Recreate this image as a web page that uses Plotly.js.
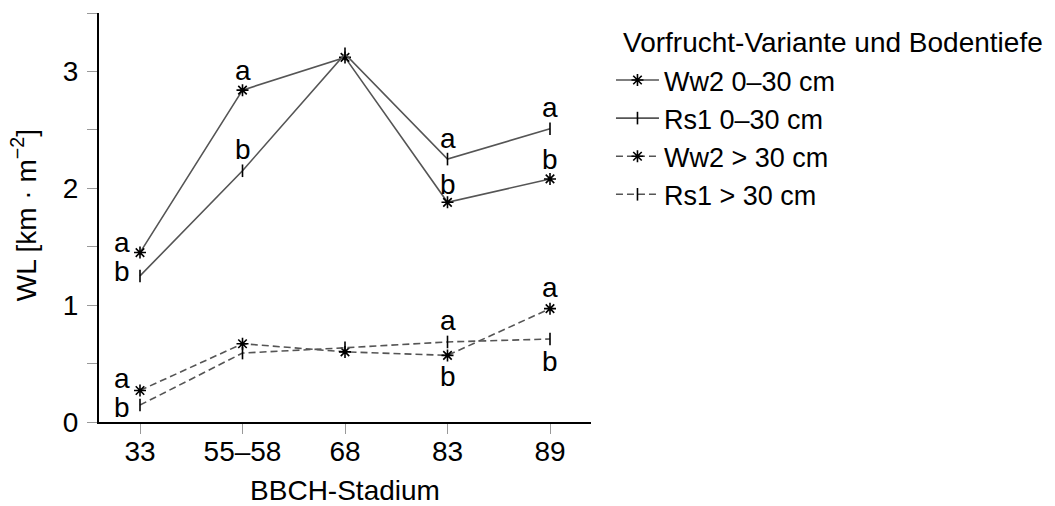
<!DOCTYPE html>
<html>
<head>
<meta charset="utf-8">
<script src="https://cdn.plot.ly/plotly-3.0.1.min.js"></script>
<style>html,body{margin:0;padding:0;background:#fff;}#chart{width:1055px;height:506px;}</style>
</head>
<body>
<div id="chart"></div>
<script>
// ---- data ----
const stages = ['33', '55–58', '68', '83', '89'];
const ww2Top = [1.45, 2.84, 3.12, 1.88, 2.08];
const rs1Top = [1.25, 2.15, 3.15, 2.25, 2.51];
const ww2Deep = [0.27, 0.67, 0.60, 0.57, 0.97];
const rs1Deep = [0.145, 0.59, 0.635, 0.685, 0.71];
const ww2TopLetters = ['a', 'a', '', 'b', 'b'];
const rs1TopLetters = ['b', 'b', '', 'a', 'a'];
const ww2DeepLetters = ['a', '', '', 'b', 'a'];
const rs1DeepLetters = ['b', '', '', 'a', 'b'];
const seriesNames = ['Ww2 0–30 cm', 'Rs1 0–30 cm', 'Ww2 > 30 cm', 'Rs1 > 30 cm'];
const legendTitle = 'Vorfrucht-Variante und Bodentiefe';
const xTitle = 'BBCH-Stadium';
const yTitle = 'WL [km · m<sup>−2</sup>]';

// ---- placement of letters (pixel shifts: [x, y-up]) ----
const shiftWwTop = [[-18, 10], [0, 20], [0, 0], [0, 18], [0, 19]];
const shiftRsTop = [[-18, 4], [0, 21], [0, 0], [0, 21], [0, 21]];
const shiftWwDeep = [[-18, 12], [0, 0], [0, 0], [0, -21], [0, 21]];
const shiftRsDeep = [[-18, -2], [0, 0], [0, 0], [0, 21], [0, -22]];

const FONT = 'Liberation Sans, Arial, Helvetica, sans-serif';
const FS = 28;
const lineCol = '#555555';

function tr(name, y, dash, sym, size) {
  return {
    x: stages, y: y, name: name, type: 'scatter', mode: 'lines+markers',
    line: {color: lineCol, width: 1.6, dash: dash},
    marker: {symbol: sym, size: size, color: '#000', line: {color: '#000', width: 1.6}},
    legendgroup: name, cliponaxis: false
  };
}
const data = [
  tr(seriesNames[0], ww2Top, 'solid', 'asterisk-open', 10),
  tr(seriesNames[1], rs1Top, 'solid', 'line-ns-open', 9),
  tr(seriesNames[2], ww2Deep, '7px,4px', 'asterisk-open', 10),
  tr(seriesNames[3], rs1Deep, '7px,4px', 'line-ns-open', 9)
];

const annotations = [];
function addLetters(letters, ys, shifts) {
  letters.forEach((l, i) => {
    if (!l) return;
    annotations.push({x: i, y: ys[i], xref: 'x', yref: 'y', text: l, showarrow: false,
      xanchor: 'center', yanchor: 'middle',
      xshift: shifts[i][0], yshift: shifts[i][1], font: {family: FONT, size: FS, color: '#000'}});
  });
}
addLetters(ww2TopLetters, ww2Top, shiftWwTop);
addLetters(rs1TopLetters, rs1Top, shiftRsTop);
addLetters(ww2DeepLetters, ww2Deep, shiftWwDeep);
addLetters(rs1DeepLetters, rs1Deep, shiftRsDeep);
annotations.push({xref: 'paper', yref: 'paper', x: 1.06, y: 0.927, xanchor: 'left', yanchor: 'middle',
  text: legendTitle, showarrow: false, font: {family: FONT, size: FS, color: '#000'}});
annotations.push({xref: 'paper', yref: 'paper', x: -0.152, y: 0.506, xanchor: 'center', yanchor: 'middle',
  textangle: -90, text: yTitle, showarrow: false, font: {family: FONT, size: FS, color: '#000'}});

const layout = {
  width: 1055, height: 506,
  margin: {l: 99, r: 464, t: 13, b: 84},
  paper_bgcolor: '#fff', plot_bgcolor: '#fff',
  font: {family: FONT, size: FS, color: '#000'},
  showlegend: true,
  legend: {x: 1.0406, y: 0.895, xanchor: 'left', yanchor: 'top', traceorder: 'grouped', tracegroupgap: 0,
    font: {family: FONT, size: 27, color: '#000'}, bgcolor: 'rgba(0,0,0,0)', itemwidth: 43},
  xaxis: {
    type: 'category', range: [-0.4, 4.4], showgrid: false, zeroline: false,
    showline: true, linecolor: '#000', linewidth: 2,
    ticks: 'outside', ticklen: 10, tickcolor: '#999', tickwidth: 1,
    ticklabelstandoff: -7,
    tickfont: {family: FONT, size: FS},
    title: {text: xTitle, font: {family: FONT, size: FS}, standoff: 18}
  },
  yaxis: {
    range: [0, 3.5], dtick: 1, tick0: 0, showgrid: false, zeroline: false,
    showline: true, linecolor: '#000', linewidth: 2,
    ticks: 'outside', ticklen: 10, tickcolor: '#999', tickwidth: 1,
    ticklabelstandoff: 3,
    minor: {dtick: 0.5, ticks: 'outside', ticklen: 10, tickcolor: '#999', tickwidth: 1, showgrid: false},
    tickfont: {family: FONT, size: FS}
  },
  annotations: annotations
};
Plotly.newPlot('chart', data, layout, {staticPlot: true, displayModeBar: false});
</script>
</body>
</html>
